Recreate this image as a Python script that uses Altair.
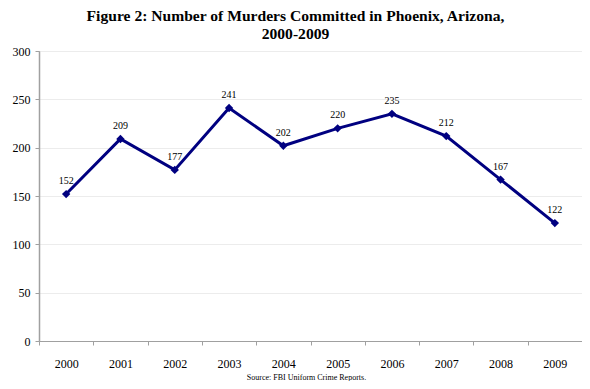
import altair as alt
import pandas as pd

years = ["2000", "2001", "2002", "2003", "2004", "2005", "2006", "2007", "2008", "2009"]
murders = [152, 209, 177, 241, 202, 220, 235, 212, 167, 122]

df = pd.DataFrame({"year": years, "murders": murders})

FONT = "Liberation Serif"
NAVY = "#000080"

x = alt.X(
    "year:N",
    sort=None,
    scale=alt.Scale(type="band", paddingInner=0, paddingOuter=0),
    axis=alt.Axis(
        title="Source: FBI Uniform Crime Reports.",
        titleFont=FONT, titleFontSize=8, titleFontWeight="normal", titleColor="black",
        titlePadding=4, titleX=267, titleAlign="center",
        labelFont=FONT, labelFontSize=12, labelColor="black", labelAngle=0,
        labelPadding=13, tickBand="extent", tickSize=4, tickColor="#a0a0a0",
        domainColor="#a0a0a0", grid=False,
    ),
)
y = alt.Y(
    "murders:Q",
    scale=alt.Scale(domain=[0, 300], nice=False),
    axis=alt.Axis(
        title=None, values=[0, 50, 100, 150, 200, 250, 300],
        labelFont=FONT, labelFontSize=12, labelColor="black", labelPadding=5,
        tickSize=4, tickColor="#a0a0a0", domainColor="#a0a0a0", domainWidth=1.5,
        gridColor="#ececec", gridWidth=1,
    ),
)

base = alt.Chart(df).encode(x=x, y=y)

line = base.mark_line(color=NAVY, strokeWidth=3)
pts = base.mark_point(shape="diamond", filled=True, color=NAVY, size=70, opacity=1)
labels = base.mark_text(dy=-13, font=FONT, fontSize=10, color="black").encode(text="murders:Q")

chart = (
    alt.layer(line, pts, labels)
    .properties(
        width=543,
        height=290,
        title=alt.TitleParams(
            text=["Figure 2: Number of Murders Committed in Phoenix, Arizona,", "2000-2009"],
            font=FONT, fontSize=15.6, fontWeight="bold", color="black",
            anchor="middle", offset=2, lineHeight=18, dx=-15,
        ),
        padding={"left": 31, "top": 43, "right": 0, "bottom": 40},
        autosize=alt.AutoSizeParams(type="none"),
    )
    .configure_view(stroke="#a0a0a0", strokeWidth=1)
)

chart.save("out.html", embed_options={"renderer": "svg", "actions": False})
